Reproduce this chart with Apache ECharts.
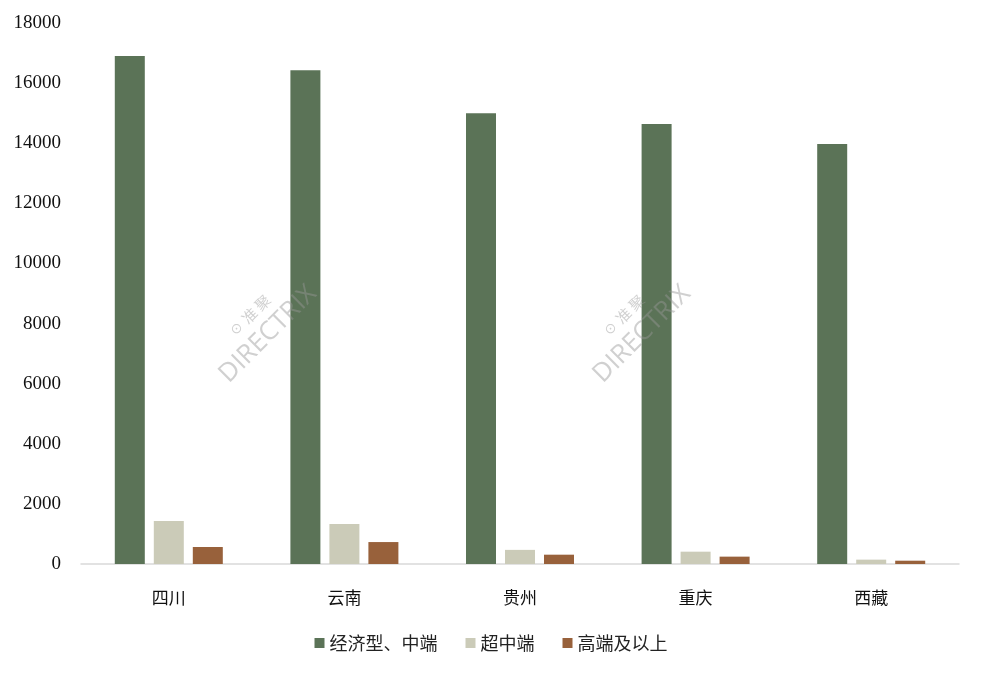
<!DOCTYPE html>
<html><head><meta charset="utf-8">
<script src="https://cdn.jsdelivr.net/npm/echarts@6/dist/echarts.min.js"></script>
<style>html,body{margin:0;padding:0;background:#fff}#c{width:982px;height:676px}</style>
</head><body><div id="c"></div>
<script>
const categories = ['四川','云南','贵州','重庆','西藏'];
const seriesNames = ['经济型、中端','超中端','高端及以上'];
const economyMid = [16900, 16430, 15000, 14640, 13970];
const upperMid = [1430, 1330, 470, 410, 145];
const luxury = [565, 730, 310, 245, 110];
const yTicks = {min: 0, max: 18000, interval: 2000};
const colors = ['#5b7357', '#cbcbb8', '#98613b'];

const chart = echarts.init(document.getElementById('c'));
const wm = (x, y) => ({
  type: 'group', x: x, y: y, rotation: Math.PI / 4, z: 100,
  children: [
    {type: 'text', x: 0, y: 0, z: 100, zlevel: 1, style: {text: 'DIRECTRIX', fill: 'rgba(150,150,150,0.45)', font: '26px "Open Sans", sans-serif', textAlign: 'center', textVerticalAlign: 'middle'}},
    {type: 'text', x: 0, y: -26, z: 100, zlevel: 1, style: {text: '☉ 准 聚', fill: 'rgba(150,150,150,0.45)', font: '15px "Noto Sans CJK SC"', textAlign: 'center', textVerticalAlign: 'middle'}}
  ]
});
chart.setOption({
  animation: false,
  color: colors,
  grid: {left: 81, right: 23, top: 23, bottom: 112},
  legend: {
    bottom: 19, left: 'center', itemWidth: 10, itemHeight: 10, itemGap: 28, icon: 'rect',
    textStyle: {fontFamily: '"Noto Sans CJK SC"', fontSize: 18, color: '#222'},
    data: seriesNames
  },
  xAxis: {
    type: 'category', data: categories,
    axisLine: {lineStyle: {color: '#d9d9d9', width: 1.5}},
    axisTick: {show: false},
    axisLabel: {fontFamily: '"Noto Sans CJK SC"', fontSize: 17, color: '#111', margin: 25}
  },
  yAxis: {
    type: 'value', min: yTicks.min, max: yTicks.max, interval: yTicks.interval,
    splitLine: {show: false}, axisLine: {show: false}, axisTick: {show: false},
    axisLabel: {fontFamily: '"Liberation Serif", serif', fontSize: 19, color: '#111', margin: 20, formatter: v => String(v)}
  },
  series: [
    {name: seriesNames[0], type: 'bar', data: economyMid, barWidth: 30, barGap: '30%'},
    {name: seriesNames[1], type: 'bar', data: upperMid, barWidth: 30, barGap: '30%'},
    {name: seriesNames[2], type: 'bar', data: luxury, barWidth: 30, barGap: '30%'}
  ],
  graphic: [wm(268, 334), wm(642, 334)]
});
</script></body></html>
